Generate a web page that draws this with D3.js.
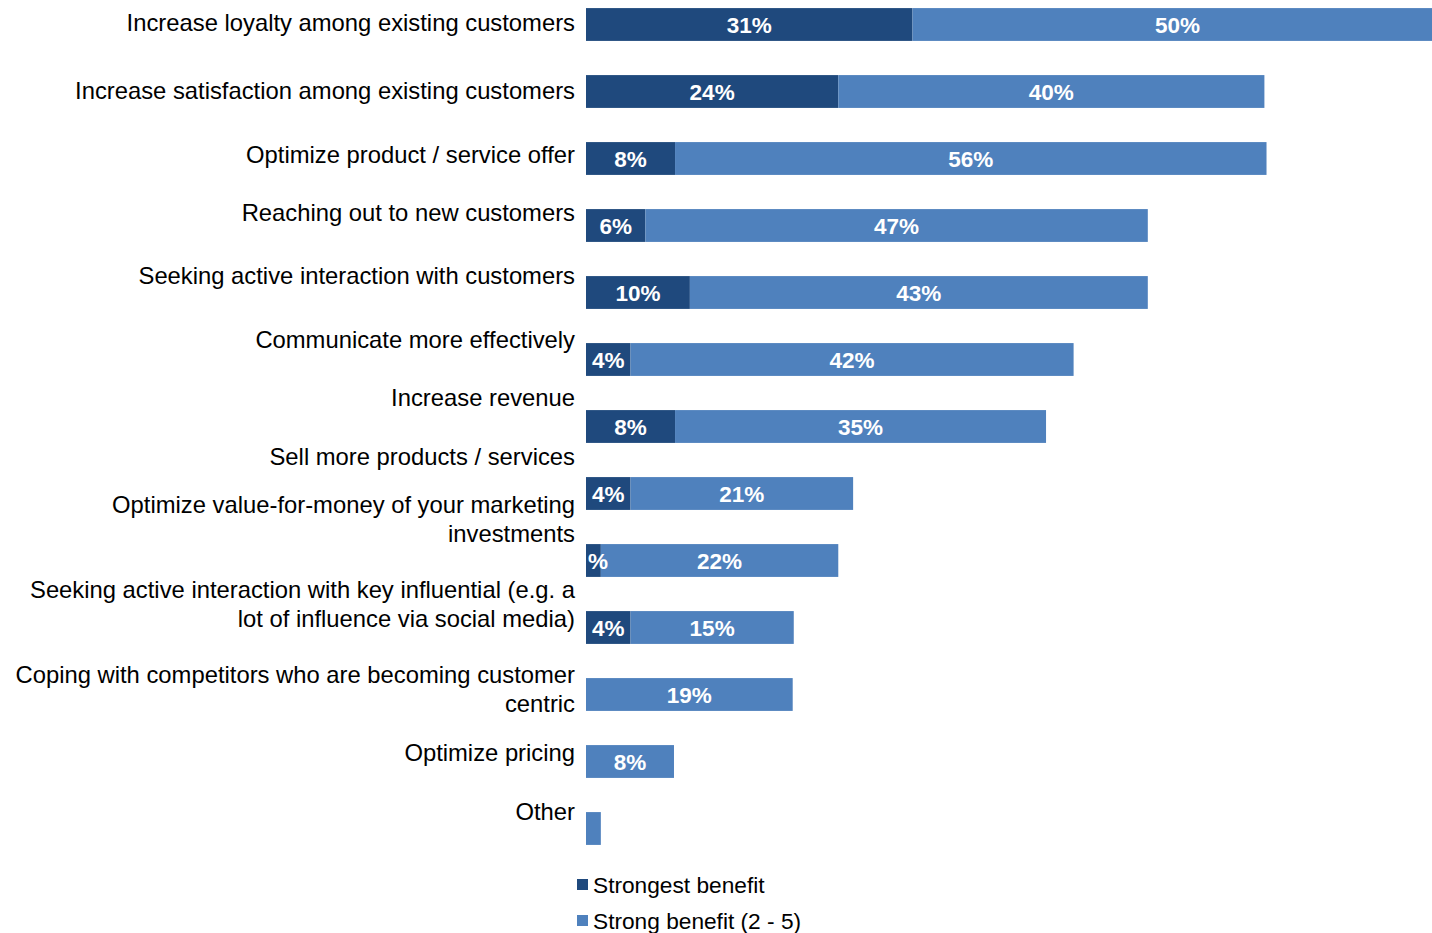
<!DOCTYPE html>
<html>
<head>
<meta charset="utf-8">
<script src="https://cdn.jsdelivr.net/npm/d3@7"></script>
<style>
  body { margin: 0; background: #fff; }
  svg { display: block; }
</style>
</head>
<body>
<div id="main"></div>
<script>
const categories = [
    ["Increase loyalty among existing customers"],
    ["Increase satisfaction among existing customers"],
    ["Optimize product / service offer"],
    ["Reaching out to new customers"],
    ["Seeking active interaction with customers"],
    ["Communicate more effectively"],
    ["Increase revenue"],
    ["Sell more products / services"],
    ["Optimize value-for-money of your marketing", "investments"],
    ["Seeking active interaction with key influential (e.g. a", "lot of influence via social media)"],
    ["Coping with competitors who are becoming customer", "centric"],
    ["Optimize pricing"],
    ["Other"]
]
const strongest = [30.8, 23.8, 8.4, 5.6, 9.8, 4.2, 8.4, 4.2, 1.4, 4.2, 0, 0, 0]
const strong = [50, 40.2, 55.8, 47.4, 43.2, 41.8, 35, 21, 22.4, 15.4, 19.5, 8.3, 1.4]
const strongestLabels = ["31%", "24%", "8%", "6%", "10%", "4%", "8%", "4%", "%", "4%", "", "", ""]
const strongLabels = ["50%", "40%", "56%", "47%", "43%", "42%", "35%", "21%", "22%", "15%", "19%", "8%", ""]
const seriesNames = ["Strongest benefit", "Strong benefit (2 - 5)"]

const ctx = {
    w: 1432,
    h: 933,
    dark: "#1f497d",
    light: "#4f81bd",
    font: "'Liberation Sans', Arial, sans-serif"
}

// label first-line offset from bar centre (the original layout drifts)
const labelShift = [-2, -1, -4, -13, -17, -20, -29, -37, -56, -38, -20, -9, -17]

function createViz() {
    let svg = d3.select("#main").append("svg")
        .attr("width", ctx.w)
        .attr("height", ctx.h)

    let xScale = d3.scaleLinear().domain([0, 80]).range([586, 1434])
    let yScale = d3.scaleBand()
        .domain(d3.range(categories.length))
        .range([-9, 862])
        .paddingInner(0.51)
        .paddingOuter(0.255)

    let rows = categories.map((c, i) => ({
        i: i,
        a: strongest[i],
        b: strong[i],
        la: strongestLabels[i],
        lb: strongLabels[i]
    }))

    let g = svg.append("g")

    // dark segment
    g.selectAll("rect.dark")
        .data(rows.filter(d => d.a > 0))
        .join("rect")
        .attr("class", "dark")
        .attr("x", xScale(0))
        .attr("y", d => yScale(d.i))
        .attr("width", d => xScale(d.a) - xScale(0))
        .attr("height", yScale.bandwidth())
        .attr("fill", ctx.dark)

    // light segment
    g.selectAll("rect.light")
        .data(rows)
        .join("rect")
        .attr("class", "light")
        .attr("x", d => xScale(d.a))
        .attr("y", d => yScale(d.i))
        .attr("width", d => xScale(d.a + d.b) - xScale(d.a))
        .attr("height", yScale.bandwidth())
        .attr("fill", ctx.light)

    // value labels
    g.selectAll("text.la")
        .data(rows.filter(d => d.la !== ""))
        .join("text")
        .attr("class", "la")
        .attr("x", d => d.la === "%" ? xScale(0) + 2 : (xScale(0) + xScale(d.a)) / 2)
        .attr("y", d => yScale(d.i) + yScale.bandwidth() / 2)
        .attr("dy", "0.36em")
        .attr("text-anchor", d => d.la === "%" ? "start" : "middle")
        .attr("fill", "white")
        .attr("font-family", ctx.font)
        .attr("font-weight", "bold")
        .attr("font-size", 22.5)
        .text(d => d.la)

    g.selectAll("text.lb")
        .data(rows.filter(d => d.lb !== ""))
        .join("text")
        .attr("class", "lb")
        .attr("x", d => (xScale(d.a) + xScale(d.a + d.b)) / 2)
        .attr("y", d => yScale(d.i) + yScale.bandwidth() / 2)
        .attr("dy", "0.36em")
        .attr("text-anchor", "middle")
        .attr("fill", "white")
        .attr("font-family", ctx.font)
        .attr("font-weight", "bold")
        .attr("font-size", 22.5)
        .text(d => d.lb)

    // category labels
    let labels = g.selectAll("text.cat")
        .data(categories)
        .join("text")
        .attr("class", "cat")
        .attr("text-anchor", "end")
        .attr("fill", "#000")
        .attr("font-family", ctx.font)
        .attr("font-size", 23.8)
    labels.each(function (lines, i) {
        let cy = yScale(i) + yScale.bandwidth() / 2 + labelShift[i]
        d3.select(this).selectAll("tspan")
            .data(lines)
            .join("tspan")
            .attr("x", 575)
            .attr("y", (l, k) => cy + k * 29)
            .attr("dy", "0.35em")
            .text(l => l)
    })

    // legend
    let legend = svg.append("g").attr("transform", "translate(577,879)")
    let items = legend.selectAll("g")
        .data(seriesNames)
        .join("g")
        .attr("transform", (d, i) => `translate(0,${i * 36})`)
    items.append("rect")
        .attr("width", 11)
        .attr("height", 11)
        .attr("fill", (d, i) => i === 0 ? ctx.dark : ctx.light)
    items.append("text")
        .attr("x", 16)
        .attr("y", 6)
        .attr("dy", "0.35em")
        .attr("font-family", ctx.font)
        .attr("font-size", 22.7)
        .attr("fill", "#000")
        .text(d => d)
}

createViz()
</script>
</body>
</html>
